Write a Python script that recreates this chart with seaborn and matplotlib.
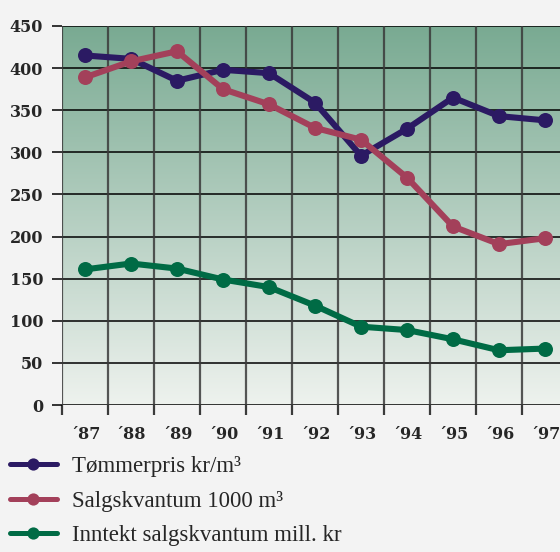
import numpy as np
import pandas as pd
import matplotlib
matplotlib.use("Agg")
import matplotlib.pyplot as plt
from matplotlib.lines import Line2D
from matplotlib.colors import LinearSegmentedColormap
import seaborn as sns

# data
years = ["´87", "´88", "´89", "´90", "´91", "´92", "´93", "´94", "´95", "´96", "´97"]
tommerpris = [415, 411, 385, 398, 394, 359, 296, 328, 365, 343, 338]
salgskvantum = [389, 408, 420, 375, 357, 329, 315, 270, 212, 191, 198]
inntekt = [161, 168, 162, 149, 140, 118, 93, 89, 78, 65, 67]

series_names = ["Tømmerpris kr/m³", "Salgskvantum 1000 m³", "Inntekt salgskvantum mill. kr"]
colors = ["#2b1a63", "#a3405a", "#006b45"]
y_ticks = [0, 50, 100, 150, 200, 250, 300, 350, 400, 450]

sns.set_theme(style="white")
plt.rcParams['font.family'] = ['DejaVu Serif', 'Liberation Serif']

df = pd.DataFrame({
    "x": list(range(len(years))) * 3,
    "value": tommerpris + salgskvantum + inntekt,
    "serie": [series_names[0]] * len(years) + [series_names[1]] * len(years) + [series_names[2]] * len(years),
})

fig = plt.figure(figsize=(5.6, 5.52), dpi=100, facecolor="#f3f3f3")
ax = fig.add_axes([62 / 560, 1 - 405 / 552, 1 - 62 / 560, (405 - 26) / 552])
ax.set_facecolor("#f3f3f3")

xmin, xmax = -0.5, (560 - 85) / 46
ax.set_xlim(xmin, xmax)
ax.set_ylim(0, 450)

# gradient background
cmap = LinearSegmentedColormap.from_list("bg", ["#eef2ee", "#79aa92"])
grad = np.linspace(0, 1, 256).reshape(-1, 1)
ax.imshow(grad, extent=[xmin, xmax, 0, 450], origin="lower", aspect="auto",
          cmap=cmap, zorder=0)

sns.lineplot(data=df, x="x", y="value", hue="serie", palette=colors,
             marker="o", markersize=10.8, markeredgewidth=0, linewidth=4.4,
             legend=False, ax=ax, zorder=5)

# grid
for yv in y_ticks:
    ax.axhline(yv, color="black", linewidth=1.1, zorder=2)
for xv in np.arange(-0.5, xmax, 1.0):
    ax.axvline(xv, color="#3a3a3a", linewidth=1.6, alpha=0.85, zorder=2)

for s in ax.spines.values():
    s.set_visible(False)

ax.set_yticks(y_ticks)
ax.set_yticklabels([str(v) for v in y_ticks], fontsize=11.5, fontweight="bold")
ax.tick_params(axis="y", length=7.5, width=1.1, color="black", pad=6, left=True)

ax.set_xticks(range(len(years)))
ax.set_xticklabels(years, fontsize=11.5, fontweight="bold")
ax.set_xticks(np.arange(-0.5, xmax, 1.0), minor=True)
ax.tick_params(axis="x", which="major", length=0, pad=15)
ax.tick_params(axis="x", which="minor", length=7.5, width=1.6, color="#3a3a3a", bottom=True)
ax.set_xlabel("")
ax.set_ylabel("")

handles = [Line2D([0], [0], color=c, linewidth=3.6, marker="o", markersize=8.8,
                  markeredgewidth=0) for c in colors]
fig.legend(handles, series_names, loc="upper left", bbox_to_anchor=(3 / 560, 1 - 449 / 552),
           frameon=False, prop={"family": "Liberation Serif", "size": 16.5},
           handlelength=2.05, handletextpad=0.64,
           labelspacing=0.6, borderaxespad=0, borderpad=0.3)

fig.savefig("out.png", dpi=100, facecolor=fig.get_facecolor())
